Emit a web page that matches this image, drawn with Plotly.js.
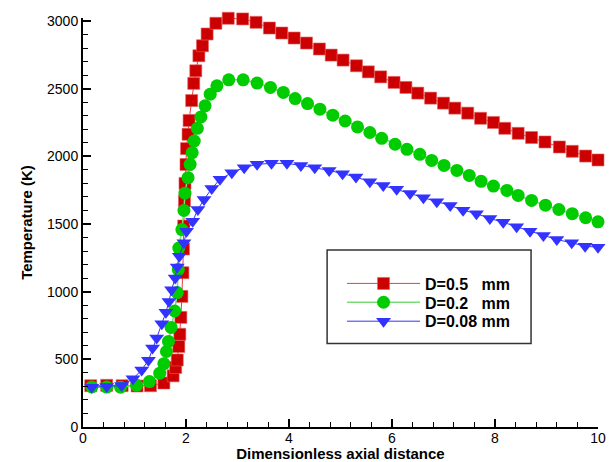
<!DOCTYPE html>
<html>
<head>
<meta charset="utf-8">
<script src="https://cdn.plot.ly/plotly-3.0.1.min.js"></script>
<style>html,body{margin:0;padding:0;background:#fff;}</style>
</head>
<body>
<div id="chart" style="width:614px;height:462px;"></div>
<script>
// D = 0.5 mm (red squares)
const xRed = [0.15,0.46,0.76,1.05,1.31,1.57,1.75,1.80,1.83,1.86,1.88,1.90,1.92,1.94,1.95,1.955,1.97,1.98,2.00,2.01,2.04,2.06,2.11,2.15,2.19,2.25,2.32,2.41,2.58,2.82,3.10,3.36,3.62,3.86,4.10,4.34,4.59,4.82,5.05,5.31,5.54,5.78,6.04,6.27,6.50,6.75,7.00,7.22,7.47,7.72,7.97,8.19,8.45,8.71,8.97,9.25,9.50,9.76,10.0];
const tRed = [305,308,305,303,305,325,378,440,495,595,685,810,965,1140,1315,1485,1670,1800,1940,2057,2163,2265,2412,2539,2632,2743,2817,2904,2983,3020,3015,2990,2948,2911,2874,2837,2793,2748,2711,2669,2624,2587,2546,2509,2467,2430,2393,2356,2319,2281,2250,2207,2170,2139,2106,2069,2037,2002,1973];

// D = 0.2 mm (green circles)
const xGreen = [0.17,0.46,0.73,1.04,1.29,1.49,1.57,1.62,1.66,1.71,1.78,1.83,1.85,1.86,1.92,1.96,1.98,2.04,2.08,2.12,2.16,2.22,2.29,2.37,2.47,2.60,2.83,3.11,3.38,3.64,3.89,4.12,4.36,4.60,4.85,5.09,5.33,5.57,5.80,6.06,6.29,6.54,6.77,7.01,7.26,7.50,7.73,7.97,8.23,8.45,8.71,8.98,9.24,9.50,9.76,10.0];
const tGreen = [296,295,294,308,336,398,468,558,632,736,857,993,1163,1322,1459,1600,1728,1842,1941,2027,2113,2207,2291,2373,2459,2521,2565,2565,2541,2509,2472,2427,2390,2348,2304,2261,2217,2176,2133,2089,2052,2015,1970,1933,1896,1859,1815,1780,1748,1711,1674,1639,1607,1576,1546,1516];

// D = 0.08 mm (blue triangles)
const xBlue = [0.17,0.46,0.75,0.97,1.14,1.27,1.35,1.43,1.53,1.61,1.67,1.72,1.79,1.83,1.87,1.96,2.01,2.13,2.23,2.35,2.50,2.66,2.89,3.13,3.38,3.66,3.96,4.23,4.50,4.78,5.04,5.30,5.57,5.83,6.09,6.35,6.61,6.87,7.13,7.38,7.64,7.90,8.16,8.42,8.68,8.94,9.20,9.49,9.75,10.0];
const tBlue = [294,299,306,356,422,493,583,657,763,847,928,1015,1101,1183,1262,1361,1447,1521,1607,1681,1762,1830,1879,1916,1941,1948,1948,1933,1916,1896,1872,1847,1812,1785,1756,1726,1694,1664,1637,1602,1576,1541,1513,1479,1447,1415,1385,1361,1336,1328];

const seriesNames = ["D=0.5\u00a0\u00a0\u00a0mm", "D=0.2\u00a0\u00a0\u00a0mm", "D=0.08 mm"];
const xTickVals = [0,2,4,6,8,10];
const yTickVals = [0,500,1000,1500,2000,2500,3000];

const FONT = "Liberation Sans, Arial, Helvetica, sans-serif";

const traces = [
  {x: xRed, y: tRed, name: seriesNames[0], legend: "legend", type: "scatter", mode: "lines+markers", cliponaxis: false,
   line: {color: "#e04444", width: 1},
   marker: {symbol: "square", size: 12, color: "#cc0000", line: {color: "#e06060", width: 0.6}}},
  {x: xGreen, y: tGreen, name: seriesNames[1], legend: "legend2", type: "scatter", mode: "lines+markers", cliponaxis: false,
   line: {color: "#77dd77", width: 1.5},
   marker: {symbol: "circle", size: 13, color: "#00cc00", line: {width: 0}}},
  {x: xBlue, y: tBlue, name: seriesNames[2], legend: "legend3", type: "scatter", mode: "lines+markers", cliponaxis: false,
   line: {color: "#3333ff", width: 1},
   marker: {symbol: "triangle-down", size: 13, color: "#3333ff", line: {width: 0}}}
];

const axisCommon = {
  showline: true, linecolor: "#000", linewidth: 2, mirror: false,
  showgrid: false, zeroline: false,
  ticks: "inside", ticklen: 8, tickwidth: 2, tickcolor: "#000",
  tickfont: {family: FONT, size: 14, color: "#000"},
  fixedrange: true
};

function legendAt(yPaper) {
  return {
    x: 0.503, y: yPaper, xanchor: "left", yanchor: "top",
    bgcolor: "rgba(0,0,0,0)", borderwidth: 0,
    font: {family: FONT, size: 16, color: "#000", weight: "bold"},
    itemwidth: 73
  };
}

const layout = {
  width: 614, height: 462,
  margin: {l: 83, r: 16, t: 18, b: 35, pad: 0},
  paper_bgcolor: "#fff", plot_bgcolor: "#fff",
  font: {family: FONT, color: "#000"},
  showlegend: true,
  xaxis: Object.assign({}, axisCommon, {
    range: [0, 10], tickmode: "array", tickvals: xTickVals,
    ticklabelstandoff: -3,
    minor: {dtick: 0.4, tick0: 0, ticks: "inside", ticklen: 5, tickwidth: 1, tickcolor: "#000", showgrid: false},
    title: {text: "<b>Dimensionless axial distance</b>", font: {family: FONT, size: 15, color: "#000"}, standoff: 0}
  }),
  yaxis: Object.assign({}, axisCommon, {
    range: [0, 3022], tickmode: "array", tickvals: yTickVals,
    minor: {dtick: 100, tick0: 0, ticks: "inside", ticklen: 5, tickwidth: 1, tickcolor: "#000", showgrid: false},
    title: {text: "<b>Temperature (K)</b>", font: {family: FONT, size: 15, color: "#000"}, standoff: 11}
  }),
  legend: legendAt(0.3924),
  legend2: legendAt(0.3463),
  legend3: legendAt(0.3000),
  shapes: [
    {type: "rect", xref: "paper", yref: "paper", x0: 0.474, x1: 0.870, y0: 0.204, y1: 0.433,
     line: {color: "#333", width: 1.5}, fillcolor: "rgba(0,0,0,0)", layer: "above"}
  ],
  hovermode: false
};

Plotly.newPlot("chart", traces, layout, {displayModeBar: false, staticPlot: true});
</script>
</body>
</html>
